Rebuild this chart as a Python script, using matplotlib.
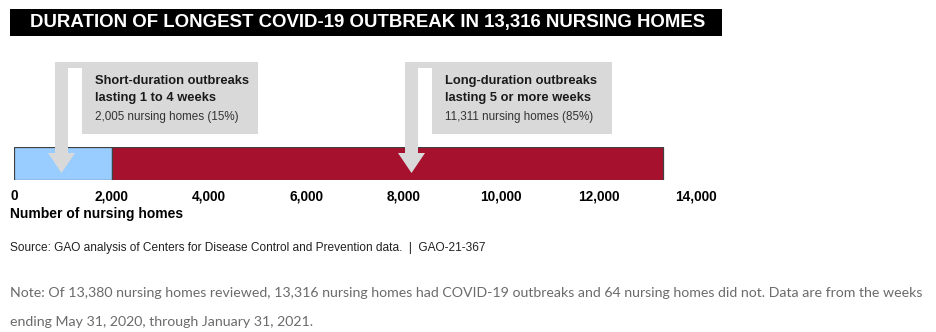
import matplotlib.pyplot as plt
from matplotlib.patches import Rectangle, Polygon

# outbreak counts by duration
groups = ['Short-duration outbreaks\nlasting 1 to 4 weeks', 'Long-duration outbreaks\nlasting 5 or more weeks']
homes = [2005, 11311]
shares = [15, 85]
colors = ['#99ccff', '#a6122d']
ticks = [0, 2000, 4000, 6000, 8000, 10000, 12000, 14000]
tick_labels = ['0', '2,000', '4,000', '6,000', '8,000', '10,000', '12,000', '14,000']

sans = ['Liberation Sans', 'DejaVu Sans']
W, H = 936, 332

fig = plt.figure(figsize=(W / 100, H / 100), dpi=100)
fig.patch.set_facecolor('white')

def px(x, y):
    return x / W, 1 - y / H

# title band
fig.patches.append(Rectangle(px(10, 36), 712 / W, 27 / H, transform=fig.transFigure,
                             facecolor='black', edgecolor='none'))
fig.text(*px(30, 23), 'DURATION OF LONGEST COVID-19 OUTBREAK IN 13,316 NURSING HOMES',
         color='white', fontsize=13.4, fontweight='bold', family=sans, va='center', ha='left')

# stacked bar
ax = fig.add_axes([14 / W, 1 - 180 / H, 682 / W, 33 / H])
left = 0
for n, c in zip(homes, colors):
    ax.barh(0, n, left=left, height=1, color=c, edgecolor='#404040', linewidth=0.9)
    left += n
ax.set_xlim(0, 14000)
ax.set_ylim(-0.5, 0.5)
ax.set_yticks([])
ax.set_xticks(ticks)
ax.set_xticklabels(tick_labels, fontsize=9.8, fontweight='bold', family=sans)
ax.tick_params(axis='x', length=0, pad=6.5)
for s in ax.spines.values():
    s.set_visible(False)

# callout boxes with arrows pointing into each segment
gray = '#d9d9d9'
arrow_x = [975, 8160]
box_w = [203, 207]
for i, (g, n, p) in enumerate(zip(groups, homes, shares)):
    x0 = ax.transData.transform((arrow_x[i], 0))[0] - 6.5
    poly = [(x0, 62), (x0 + box_w[i], 62), (x0 + box_w[i], 134), (x0 + 27, 134),
            (x0 + 27, 68), (x0 + 13, 68), (x0 + 13, 153), (x0 + 20, 153),
            (x0 + 6.5, 173), (x0 - 7, 153), (x0, 153)]
    fig.patches.append(Polygon([px(a, b) for a, b in poly], closed=True,
                               transform=fig.transFigure, facecolor=gray,
                               edgecolor='none', zorder=5))
    fig.text(*px(x0 + 40, 89.5), g, fontsize=9.3, fontweight='bold', family=sans,
             va='center', ha='left', linespacing=1.5, color='#1a1a1a', zorder=6)
    fig.text(*px(x0 + 40, 117), f'{n:,} nursing homes ({p}%)', fontsize=8.4,
             family=sans, va='center', ha='left', color='#333333', zorder=6)

fig.text(*px(10, 214), 'Number of nursing homes', fontsize=10, fontweight='bold',
         family=sans, va='center', ha='left')
fig.text(*px(10, 248), 'Source: GAO analysis of Centers for Disease Control and Prevention data.  |  GAO-21-367',
         fontsize=8.6, family=sans, va='center', ha='left', color='#222222')

note_font = ['Lato', 'DejaVu Sans']
fig.text(*px(10, 293), 'Note: Of 13,380 nursing homes reviewed, 13,316 nursing homes had COVID-19 outbreaks '
         'and 64 nursing homes did not. Data are from the weeks', fontsize=10.2,
         family=note_font, va='center', ha='left', color='#6b6b6b')
fig.text(*px(10, 322), 'ending May 31, 2020, through January 31, 2021.', fontsize=10.2,
         family=note_font, va='center', ha='left', color='#6b6b6b')

fig.savefig('out.png', dpi=100, facecolor='white')
